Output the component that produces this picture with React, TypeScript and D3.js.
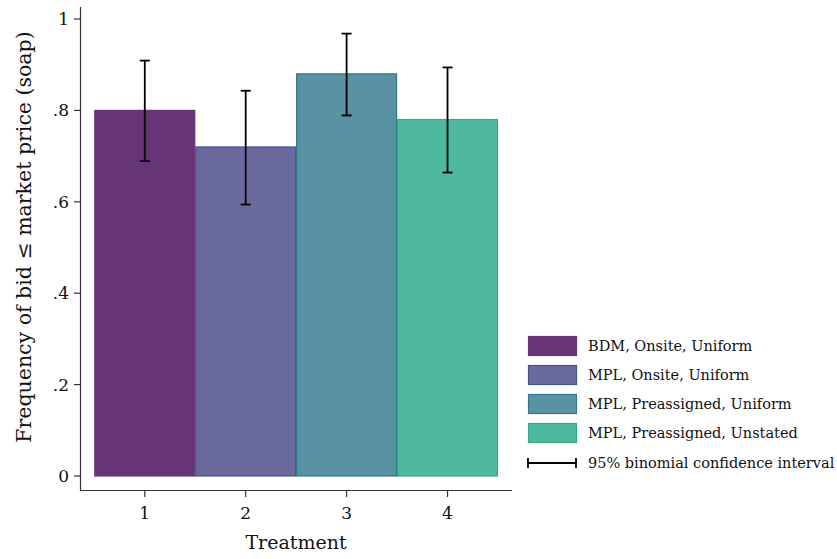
import React from "react";
import * as d3 from "d3";

const treatments = [1, 2, 3, 4];
const labels = [
  "BDM, Onsite, Uniform",
  "MPL, Onsite, Uniform",
  "MPL, Preassigned, Uniform",
  "MPL, Preassigned, Unstated",
];
const freq = [0.8, 0.72, 0.88, 0.78];
const ciLow = [0.689, 0.594, 0.789, 0.664];
const ciHigh = [0.909, 0.843, 0.968, 0.894];
const fills = ["#673575", "#6a6a9e", "#5892a3", "#4fb99f"];
const strokes = ["#673575", "#465390", "#2f778f", "#2bad89"];
const yTicks = [0, 0.2, 0.4, 0.6, 0.8, 1];
const yTickLabels = ["0", ".2", ".4", ".6", ".8", "1"];
const ciLabel = "95% binomial confidence interval";

const FONT = "'DejaVu Serif', serif";

export default function App() {
  const W = 837, H = 559;
  const x = d3.scaleLinear().domain([0.363, 4.634]).range([80.5, 511.5]);
  const y = d3.scaleLinear().domain([0, 1]).range([476, 19]);
  const axisTop = 7;
  const axisBottom = 490;
  return (
    <svg width={W} height={H} style={{ position: "absolute", left: 0, top: 0 }}>
      <rect width={W} height={H} fill="#fff" />
      {treatments.map((t, i) => (
        <rect key={t} x={x(t - 0.5) + 0.5} y={y(freq[i])} width={x(t + 0.5) - x(t - 0.5) - 1}
          height={y(0) - y(freq[i])} fill={fills[i]} stroke={strokes[i]} strokeWidth={1.2} />
      ))}
      {treatments.map((t, i) => (
        <g key={"e" + t} stroke="#000" strokeWidth={1.8}>
          <line x1={x(t)} x2={x(t)} y1={y(ciLow[i])} y2={y(ciHigh[i])} />
          <line x1={x(t) - 5} x2={x(t) + 5} y1={y(ciLow[i])} y2={y(ciLow[i])} />
          <line x1={x(t) - 5} x2={x(t) + 5} y1={y(ciHigh[i])} y2={y(ciHigh[i])} />
        </g>
      ))}
      {/* y axis */}
      <line x1={80.5} x2={80.5} y1={axisTop} y2={axisBottom} stroke="#333" strokeWidth={1.2} />
      {yTicks.map((v, i) => (
        <g key={"yt" + i}>
          <line x1={74} x2={80.5} y1={y(v)} y2={y(v)} stroke="#333" strokeWidth={1.2} />
          <text x={69} y={y(v)} dy="0.35em" textAnchor="end" fontFamily={FONT} fontSize={17} fill="#111">
            {yTickLabels[i]}
          </text>
        </g>
      ))}
      {/* x axis */}
      <line x1={80} x2={512} y1={490.5} y2={490.5} stroke="#333" strokeWidth={1.2} />
      {treatments.map((t) => (
        <g key={"xt" + t}>
          <line x1={x(t)} x2={x(t)} y1={490.5} y2={497} stroke="#333" strokeWidth={1.2} />
          <text x={x(t)} y={519} textAnchor="middle" fontFamily={FONT} fontSize={17} fill="#111">{t}</text>
        </g>
      ))}
      <text x={296} y={549} textAnchor="middle" fontFamily={FONT} fontSize={19} fill="#111">Treatment</text>
      <text transform={`translate(31,237) rotate(-90)`} textAnchor="middle"
        fontFamily={FONT} fontSize={20.5} fill="#111">
        Frequency of bid ≤ market price (soap)
      </text>
      {/* legend */}
      {labels.map((l, i) => (
        <g key={"lg" + i}>
          <rect x={528.5} y={336.5 + i * 29} width={48} height={19} fill={fills[i]} stroke={strokes[i]} strokeWidth={1.2} />
          <text x={588} y={346 + i * 29} dy="0.35em" fontFamily={FONT} fontSize={14.5} fill="#111">{l}</text>
        </g>
      ))}
      <g stroke="#000" strokeWidth={1.8}>
        <line x1={528} x2={576} y1={463} y2={463} />
        <line x1={528} x2={528} y1={458} y2={468} />
        <line x1={576} x2={576} y1={458} y2={468} />
      </g>
      <text x={588} y={463} dy="0.35em" fontFamily={FONT} fontSize={14.5} fill="#111">{ciLabel}</text>
    </svg>
  );
}
